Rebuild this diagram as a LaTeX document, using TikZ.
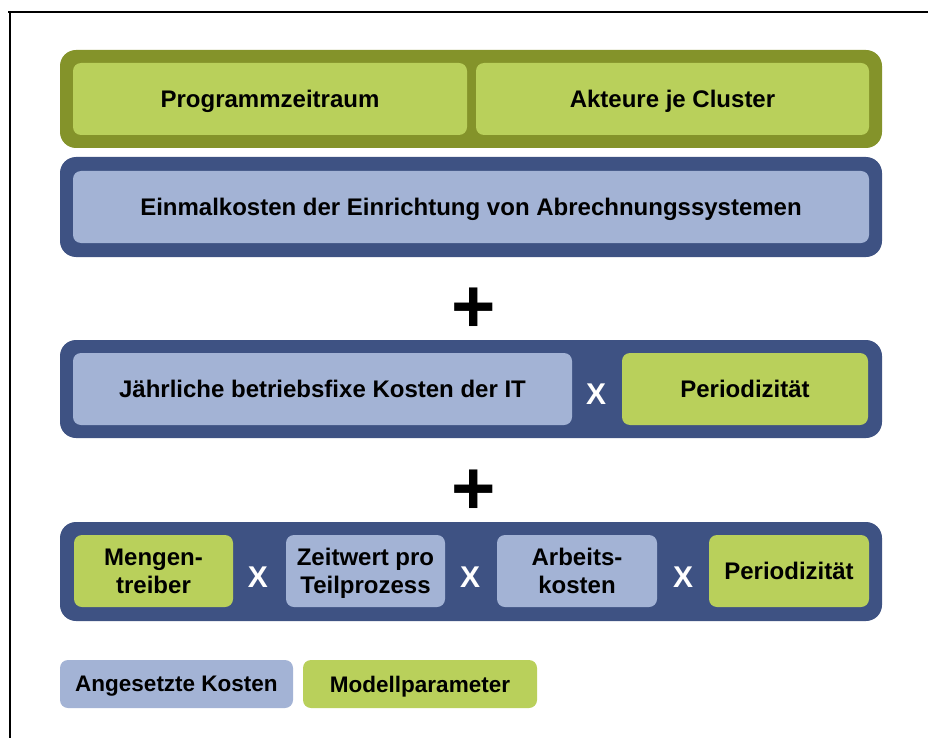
\documentclass[tikz,border=0pt]{standalone}
\usepackage{fontspec}
\setmainfont{Liberation Sans}
\usetikzlibrary{positioning}
\definecolor{olivedark}{HTML}{84932A}
\definecolor{olivelight}{HTML}{B9D05B}
\definecolor{navy}{HTML}{3E5283}
\definecolor{paleblue}{HTML}{A3B3D5}

\begin{document}
\begin{tikzpicture}[x=1pt,y=-1pt,inner sep=0pt,
   band/.style={fill=navy,rounded corners=16pt,minimum width=822pt},
   kosten/.style={fill=paleblue,rounded corners=8pt,minimum height=72pt,
      text depth=0pt,align=center,font=\bfseries\fontsize{24}{28}\selectfont},
   param/.style={kosten,fill=olivelight},
   legende/.style={minimum height=48pt,font=\bfseries\fontsize{22.5}{26}\selectfont},
   mal/.style={text=white,font=\bfseries\fontsize{30}{30}\selectfont},
   plus/.style={font=\bfseries\fontsize{76}{76}\selectfont}]
   \useasboundingbox (0,0) rectangle (928,738);
   \draw[line width=2.5pt] (8,12) -- (930,12) (10,11) -- (10,740);
   % top band
   \node[band,fill=olivedark,minimum height=98pt] (top) at (471,99) {};
   \node[param,minimum width=394pt] (zeitraum) at (270,99) {Programmzeitraum};
   \node[param,minimum width=393pt] (akteure) at (672.5,99) {Akteure je Cluster};
   % one-off costs
   \node[band,minimum height=100pt] (einmal_band) at (471,207) {};
   \node[kosten,minimum width=796pt] (einmal) at (471,207)
      {Einmalkosten der Einrichtung von Abrechnungssystemen};
   \node[plus] (plus_1) at (474,310) {+};
   % fixed IT costs
   \node[band,minimum height=98pt] (fix_band) at (471,389) {};
   \node[kosten,minimum width=499pt] (fix) at (322.5,389)
      {Jährliche betriebsfixe Kosten der IT};
   \node[mal] (x_1) at (596,394) {X};
   \node[param,minimum width=246pt] (period_1) at (745,389) {Periodizität};
   \node[plus] (plus_2) at (474,492) {+};
   % process costs
   \node[band,minimum height=99pt] (prozess_band) at (471,571.5) {};
   \node[param,minimum width=159pt] (menge) at (153.5,571) {Mengen-\\treiber};
   \node[mal] (x_2) at (258,577) {X};
   \node[kosten,minimum width=159pt] (zeitwert) at (365.5,571) {Zeitwert pro\\Teilprozess};
   \node[mal] (x_3) at (470,577) {X};
   \node[kosten,minimum width=160pt] (arbeit) at (577,571) {Arbeits-\\kosten};
   \node[mal] (x_4) at (683,577) {X};
   \node[param,minimum width=160pt] (period_2) at (789,571) {Periodizität};
   % legend
   \node[kosten,legende,minimum width=233pt] (leg_kosten) at (176.5,684) {Angesetzte Kosten};
   \node[param,legende,minimum width=234pt] (leg_param) at (420,684) {Modellparameter};
\end{tikzpicture}
\end{document}
